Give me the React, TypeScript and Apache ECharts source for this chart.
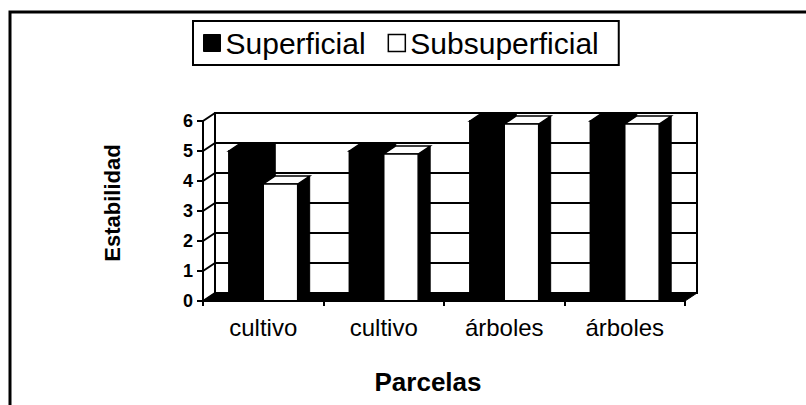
import React, { useEffect, useRef } from "react";
import * as echarts from "echarts";

const categories = ["cultivo", "cultivo", "árboles", "árboles"];
const superficial = [5, 5, 6, 6];
const subsuperficial = [3.9, 4.9, 5.9, 5.9];
const yTicks = [0, 1, 2, 3, 4, 5, 6];

const FONT = '"Liberation Sans", Arial, Helvetica, sans-serif';
const DX = 12;
const DY = -8;

function makeBarRender(slot: number, dark: boolean) {
  return (params: any, api: any) => {
    const ci = api.value(0);
    const v = api.value(1);
    const top = api.coord([ci, v]);
    const base = api.coord([ci, 0]);
    const cw = api.size([1, 0])[0];
    const w = cw / 3.5;
    const x0 = top[0] - w + slot * w;
    const x1 = x0 + w;
    const yt = top[1];
    const yb = base[1];
    const sideFill = "#000";
    const frontFill = dark ? "#000" : "#fff";
    const topFill = dark ? "#000" : "#fff";
    return {
      type: "group",
      children: [
        {
          type: "polygon",
          shape: { points: [[x1, yt], [x1 + DX, yt + DY], [x1 + DX, yb + DY], [x1, yb]] },
          style: { fill: sideFill, stroke: "#000", lineWidth: 1 },
        },
        {
          type: "polygon",
          shape: { points: [[x0, yt], [x0 + DX, yt + DY], [x1 + DX, yt + DY], [x1, yt]] },
          style: { fill: topFill, stroke: "#000", lineWidth: 1.5 },
        },
        {
          type: "rect",
          shape: { x: x0, y: yt, width: w, height: yb - yt },
          style: { fill: frontFill, stroke: "#000", lineWidth: 1.5 },
        },
      ],
    };
  };
}

function wallRender(params: any, api: any) {
  const cs = params.coordSys;
  const v = api.value(1);
  const p = api.coord([0, v]);
  const x = cs.x;
  const y = p[1];
  const children: any[] = [
    {
      type: "line",
      shape: { x1: x, y1: y, x2: x + DX, y2: y + DY },
      style: { stroke: "#000", lineWidth: 2 },
    },
  ];
  if (v === 0) {
    children.push({
      type: "polygon",
      shape: {
        points: [
          [x, y],
          [x + cs.width, y],
          [x + cs.width + DX, y + DY],
          [x + DX, y + DY],
        ],
      },
      style: { fill: "#000", stroke: "#000", lineWidth: 1 },
    });
  }
  return { type: "group", children };
}

export default function App() {
  const ref = useRef<HTMLDivElement>(null);
  useEffect(() => {
    if (!ref.current) return;
    const chart = echarts.init(ref.current, null, { renderer: "svg" });
    chart.setOption({
      animation: false,
      backgroundColor: "#fff",
      legend: {
        left: 193,
        top: 21,
        padding: [7, 20, 7, 10],
        borderColor: "#000",
        borderWidth: 2,
        itemWidth: 17,
        itemHeight: 17,
        itemGap: 22,
        icon: "rect",
        selectedMode: false,
        textStyle: { fontSize: 30, color: "#000", fontFamily: FONT },
        data: [
          { name: "Superficial", itemStyle: { color: "#000", borderColor: "#000", borderWidth: 1 } },
          { name: "Subsuperficial", itemStyle: { color: "#fff", borderColor: "#000", borderWidth: 1.5 } },
        ],
      },
      grid: [
        { left: 203, top: 121, width: 482, height: 180, show: false },
        {
          left: 203 + DX,
          top: 121 + DY,
          width: 482,
          height: 180,
          show: true,
          borderColor: "#000",
          borderWidth: 2,
          backgroundColor: "#fff",
          z: 0,
        },
      ],
      xAxis: [
        {
          type: "category",
          gridIndex: 0,
          data: categories,
          axisLine: { show: true, lineStyle: { color: "#000", width: 2 } },
          axisTick: { show: true, length: 5, lineStyle: { color: "#000", width: 2 } },
          axisLabel: { color: "#000", fontSize: 24, fontFamily: FONT, margin: 14 },
          splitLine: { show: false },
          z: 5,
        },
        { type: "category", gridIndex: 1, data: categories, show: false },
      ],
      yAxis: [
        {
          type: "value",
          gridIndex: 0,
          min: 0,
          max: 6,
          interval: 1,
          axisLine: { show: true, lineStyle: { color: "#000", width: 2 } },
          axisTick: { show: true, length: 6, lineStyle: { color: "#000", width: 2 } },
          axisLabel: { color: "#000", fontSize: 18, fontWeight: "bold", fontFamily: FONT, margin: 10 },
          splitLine: { show: false },
          z: 5,
        },
        {
          type: "value",
          gridIndex: 1,
          min: 0,
          max: 6,
          interval: 1,
          name: "Estabilidad",
          nameLocation: "middle",
          nameRotate: 90,
          nameGap: 92,
          nameTextStyle: { color: "#000", fontSize: 22, fontWeight: "bold", fontFamily: FONT },
          axisLine: { show: false },
          axisTick: { show: false },
          axisLabel: { show: false },
          splitLine: { show: true, lineStyle: { color: "#000", width: 2 } },
        },
      ],
      graphic: [
        {
          type: "polyline",
          shape: { points: [[10, 405], [10, 12], [806, 12]] },
          style: { stroke: "#000", lineWidth: 3, fill: null },
        },
        {
          type: "text",
          x: 428,
          y: 382,
          style: {
            text: "Parcelas",
            align: "center",
            verticalAlign: "middle",
            font: `bold 26px ${FONT}`,
            fill: "#000",
          },
        },
      ],
      series: [
        {
          type: "custom",
          name: "walls",
          xAxisIndex: 0,
          yAxisIndex: 0,
          clip: false,
          silent: true,
          renderItem: wallRender,
          data: yTicks.map((t) => [0, t]),
          encode: { x: 0, y: 1 },
          z: 2,
        },
        {
          type: "custom",
          name: "Superficial",
          xAxisIndex: 0,
          yAxisIndex: 0,
          clip: false,
          renderItem: makeBarRender(0, true),
          itemStyle: { color: "#000" },
          data: superficial.map((v, i) => [i, v]),
          encode: { x: 0, y: 1 },
          z: 3,
        },
        {
          type: "custom",
          name: "Subsuperficial",
          xAxisIndex: 0,
          yAxisIndex: 0,
          clip: false,
          renderItem: makeBarRender(1, false),
          itemStyle: { color: "#fff", borderColor: "#000" },
          data: subsuperficial.map((v, i) => [i, v]),
          encode: { x: 0, y: 1 },
          z: 4,
        },
      ],
    });
    return () => chart.dispose();
  }, []);
  return (
    <div
      ref={ref}
      style={{ position: "absolute", left: 0, top: 0, width: 806, height: 405, background: "#fff" }}
    />
  );
}
